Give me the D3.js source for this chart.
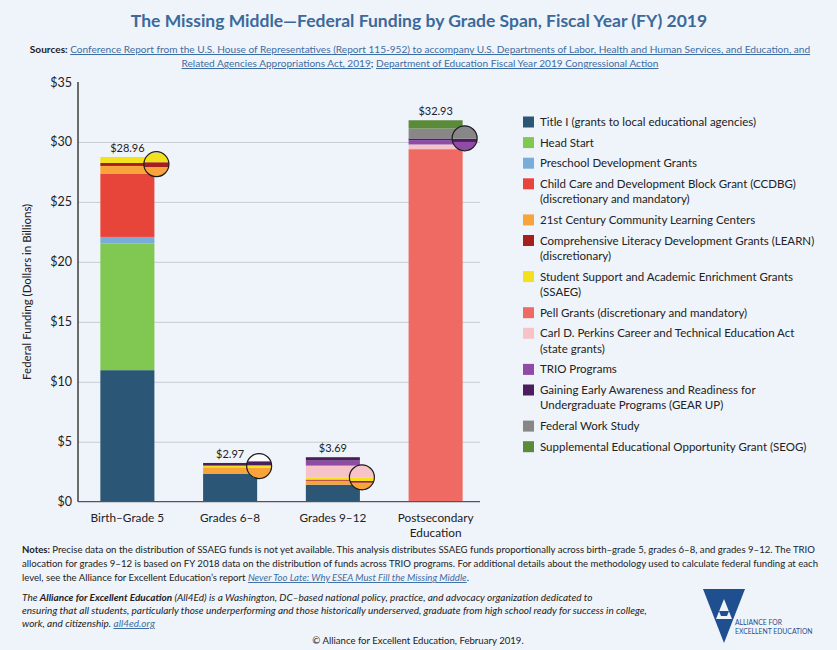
<!DOCTYPE html>
<html>
<head>
<meta charset="utf-8">
<script src="https://cdn.jsdelivr.net/npm/d3@7"></script>
<style>
  body { margin: 0; background: #eff3fa; }
  svg text { font-family: Lato, "Open Sans", sans-serif; }
  .link { fill: #3d6da3; text-decoration: underline; }
</style>
</head>
<body>
<svg id="chart" width="837" height="650"></svg>
<script>
// ---- data (dollars in billions) ----
const categories = ["Birth–Grade 5", "Grades 6–8", "Grades 9–12", "Postsecondary\nEducation"];
const programs = [
  "Title I (grants to local educational agencies)",
  "Head Start",
  "Preschool Development Grants",
  "Child Care and Development Block Grant (CCDBG)\n(discretionary and mandatory)",
  "21st Century Community Learning Centers",
  "Comprehensive Literacy Development Grants (LEARN)\n(discretionary)",
  "Student Support and Academic Enrichment Grants\n(SSAEG)",
  "Pell Grants (discretionary and mandatory)",
  "Carl D. Perkins Career and Technical Education Act\n(state grants)",
  "TRIO Programs",
  "Gaining Early Awareness and Readiness for\nUndergraduate Programs (GEAR UP)",
  "Federal Work Study",
  "Supplemental Educational Opportunity Grant (SEOG)"
];
const colors = ["#2b5675", "#80c852", "#79acd8", "#e8453a", "#f8a43c", "#a51f1f", "#f2e11c",
                "#ef6a62", "#f6c3c9", "#8f4ba6", "#4b1e5e", "#878787", "#5b8a3a"];

const titleI    = [10.97, 2.31, 1.42, 0];
const headStart = [10.56, 0, 0, 0];
const preschool = [0.55, 0, 0, 0];
const ccdbg     = [5.29, 0, 0, 0];
const cclc21    = [0.63, 0.56, 0.33, 0];
const learn     = [0.25, 0, 0.09, 0];
const ssaeg     = [0.5, 0.14, 0.17, 0];
const pell      = [0, 0, 0, 29.4];
const perkins   = [0, 0, 1.0, 0.39];
const trio      = [0, 0, 0.42, 0.36];
const gearUp    = [0, 0.22, 0.28, 0.14];
const workStudy = [0, 0, 0, 0.83];
const seog      = [0, 0, 0, 0.69];
const totals    = [28.96, 2.97, 3.69, 32.93];

// magnifier circles: value at the centre of the lens and its zoom factor
const lensValue = [28.15, 2.97, 2.03, 30.3];
const lensZoom  = [1.6, 1.5, 1.6, 2.0];

const yTicks = [0, 5, 10, 15, 20, 25, 30, 35];

// ---- table for d3.stack ----
const series = [titleI, headStart, preschool, ccdbg, cclc21, learn, ssaeg, pell, perkins, trio, gearUp, workStudy, seog];
const table = categories.map((c, i) => {
  const row = { cat: c };
  programs.forEach((p, j) => row[p] = series[j][i]);
  return row;
});
const stacked = d3.stack().keys(programs)(table);
const color = d3.scaleOrdinal().domain(programs).range(colors);

const svg = d3.select("#chart");
const plotL = 78, plotR = 480, plotT = 82, plotB = 501.7;

const x = d3.scaleBand().domain(categories).range([76, 487]).paddingInner(0.474).paddingOuter(0.237);
const y = d3.scaleLinear().domain([0, 35]).range([plotB, plotT]);

// ---- title + sources ----
svg.append("text").attr("x", 419).attr("y", 27).attr("text-anchor", "middle")
   .style("font-size", "17.5px").style("font-weight", "bold").style("fill", "#3b6a9a")
   .text("The Missing Middle—Federal Funding by Grade Span, Fiscal Year (FY) 2019");

const src1 = svg.append("text").attr("x", 420).attr("y", 53).attr("text-anchor", "middle")
   .style("font-size", "10.1px").style("fill", "#222");
src1.append("tspan").style("font-weight", "bold").text("Sources: ");
src1.append("tspan").attr("class", "link")
   .text("Conference Report from the U.S. House of Representatives (Report 115-952) to accompany U.S. Departments of Labor, Health and Human Services, and Education, and");
const src2 = svg.append("text").attr("x", 420).attr("y", 67).attr("text-anchor", "middle")
   .style("font-size", "10.1px").style("fill", "#222");
src2.append("tspan").attr("class", "link").text("Related Agencies Appropriations Act, 2019");
src2.append("tspan").text("; ");
src2.append("tspan").attr("class", "link").text("Department of Education Fiscal Year 2019 Congressional Action");

// ---- grid + axes ----
svg.append("g").attr("transform", `translate(${plotL},0)`)
   .call(d3.axisLeft(y).tickValues(yTicks.filter(d => d > 0 && d < 35)).tickSize(-(plotR - plotL)).tickFormat(""))
   .call(g => g.select(".domain").remove())
   .call(g => g.selectAll("line").attr("stroke", "#c9ccd2").attr("stroke-width", 1));

svg.append("g").attr("transform", `translate(${plotL},0)`)
   .call(d3.axisLeft(y).tickValues(yTicks).tickSize(0).tickPadding(6).tickFormat(d => "$" + d))
   .call(g => g.select(".domain").remove())
   .call(g => g.selectAll("text").style("font-size", "12.5px").style("fill", "#222")
                .style("font-family", "Lato, sans-serif"));

svg.append("text")
   .attr("transform", "translate(31," + (plotT + plotB) / 2 + ") rotate(-90)")
   .attr("text-anchor", "middle").style("font-size", "11.5px").style("fill", "#222")
   .text("Federal Funding (Dollars in Billions)");

// ---- bars ----
svg.append("g").selectAll("g").data(stacked).join("g")
   .attr("fill", d => color(d.key))
   .selectAll("rect").data(d => d).join("rect")
   .attr("x", d => x(d.data.cat))
   .attr("width", x.bandwidth())
   .attr("y", d => y(d[1]))
   .attr("height", d => y(d[0]) - y(d[1]));

// axis lines drawn over bars
svg.append("line").attr("x1", plotL).attr("x2", plotL).attr("y1", plotT).attr("y2", plotB)
   .attr("stroke", "#222").attr("stroke-width", 1.3);
svg.append("line").attr("x1", plotL).attr("x2", plotR).attr("y1", plotB).attr("y2", plotB)
   .attr("stroke", "#555").attr("stroke-width", 1.3);

// x labels
const xl = svg.append("g").selectAll("text").data(categories).join("text")
   .attr("x", d => x(d) + x.bandwidth() / 2).attr("y", 522)
   .attr("text-anchor", "middle").style("font-size", "11.8px").style("fill", "#222");
xl.selectAll("tspan").data(d => d.split("\n")).join("tspan")
   .attr("x", function() { return d3.select(this.parentNode).attr("x"); })
   .attr("dy", (d, i) => i ? 14.5 : 0).text(d => d);

// totals
svg.append("g").selectAll("text").data(categories).join("text")
   .attr("x", (d) => x(d) + x.bandwidth() / 2)
   .attr("y", (d, i) => y(d3.sum(series, s => s[i])) - 5)
   .attr("text-anchor", "middle").style("font-size", "11px").style("fill", "#222")
   .text((d, i) => "$" + totals[i].toFixed(2));

// ---- magnifier circles ----
const r = 12.5;
categories.forEach((c, i) => {
  const cx = x(c) + x.bandwidth() + 2;
  const cy = y(lensValue[i]);
  const yl = v => cy + (y(v) - cy) * lensZoom[i];
  const id = "lens" + i;
  svg.append("clipPath").attr("id", id).append("circle").attr("cx", cx).attr("cy", cy).attr("r", r);
  const g = svg.append("g").attr("clip-path", `url(#${id})`);
  g.append("rect").attr("x", cx - r).attr("y", cy - r).attr("width", 2 * r).attr("height", 2 * r).attr("fill", "#fbfbfd");
  g.selectAll("rect.seg").data(stacked.map(s => ({ key: s.key, v0: s[i][0], v1: s[i][1] })).filter(d => d.v1 > d.v0))
   .join("rect").attr("class", "seg")
   .attr("x", cx - r).attr("width", 2 * r)
   .attr("y", d => yl(d.v1)).attr("height", d => yl(d.v0) - yl(d.v1))
   .attr("fill", d => color(d.key));
  svg.append("circle").attr("cx", cx).attr("cy", cy).attr("r", r)
     .attr("fill", "none").attr("stroke", "#1b1b1b").attr("stroke-width", 1.2);
});

// ---- legend ----
const legend = svg.append("g").attr("transform", "translate(523,0)");
let ly = 122;
programs.forEach((p, i) => {
  const lines = p.split("\n");
  legend.append("rect").attr("x", 0).attr("y", ly - 5.5).attr("width", 11).attr("height", 11).attr("fill", colors[i]);
  const t = legend.append("text").attr("x", 17).attr("y", ly + 4).style("font-size", "11.5px").style("fill", "#222");
  lines.forEach((l, k) => t.append("tspan").attr("x", 17).attr("dy", k ? 15.3 : 0).text(l));
  ly += 20.6 + (lines.length - 1) * 15.5;
});

// ---- notes ----
const notes = svg.append("g").style("font-size", "9.6px").style("fill", "#222");
const n1 = notes.append("text").attr("x", 22).attr("y", 553);
n1.append("tspan").style("font-weight", "bold").text("Notes: ");
n1.append("tspan").text("Precise data on the distribution of SSAEG funds is not yet available. This analysis distributes SSAEG funds proportionally across birth–grade 5, grades 6–8, and grades 9–12. The TRIO");
notes.append("text").attr("x", 22).attr("y", 567)
     .text("allocation for grades 9–12 is based on FY 2018 data on the distribution of funds across TRIO programs. For additional details about the methodology used to calculate federal funding at each");
const n3 = notes.append("text").attr("x", 22).attr("y", 581);
n3.append("tspan").text("level, see the Alliance for Excellent Education’s report ");
n3.append("tspan").attr("class", "link").style("font-style", "italic").text("Never Too Late: Why ESEA Must Fill the Missing Middle");
n3.append("tspan").text(".");

const italic = notes.append("g").style("font-style", "italic").style("font-size", "10px");
const a1 = italic.append("text").attr("x", 22).attr("y", 601);
a1.append("tspan").text("The ");
a1.append("tspan").style("font-weight", "bold").text("Alliance for Excellent Education");
a1.append("tspan").text(" (All4Ed) is a Washington, DC–based national policy, practice, and advocacy organization dedicated to");
italic.append("text").attr("x", 22).attr("y", 614)
     .text("ensuring that all students, particularly those underperforming and those historically underserved, graduate from high school ready for success in college,");
const a3 = italic.append("text").attr("x", 22).attr("y", 627);
a3.append("tspan").text("work, and citizenship. ");
a3.append("tspan").attr("class", "link").text("all4ed.org");

notes.append("text").attr("x", 418).attr("y", 644).attr("text-anchor", "middle")
     .text("© Alliance for Excellent Education, February 2019.");

// ---- logo ----
const logo = svg.append("g").attr("transform", "translate(703,589)");
logo.append("path").attr("d", "M0,0 L42,0 L21,54 Z").attr("fill", "#1f4f8f");
logo.append("path").attr("d", "M21,10 L29,30 L13,30 Z").attr("fill", "#eff3fa");
logo.append("path").attr("d", "M16,22 L26,22 L24,27 L18,27 Z").attr("fill", "#1f4f8f");
logo.append("text").attr("x", 32).attr("y", 36).style("font-size", "6.8px").style("fill", "#1f4f8f").text("ALLIANCE FOR");
logo.append("text").attr("x", 32).attr("y", 45).style("font-size", "6.8px").style("fill", "#1f4f8f").text("EXCELLENT EDUCATION");
</script>
</body>
</html>
